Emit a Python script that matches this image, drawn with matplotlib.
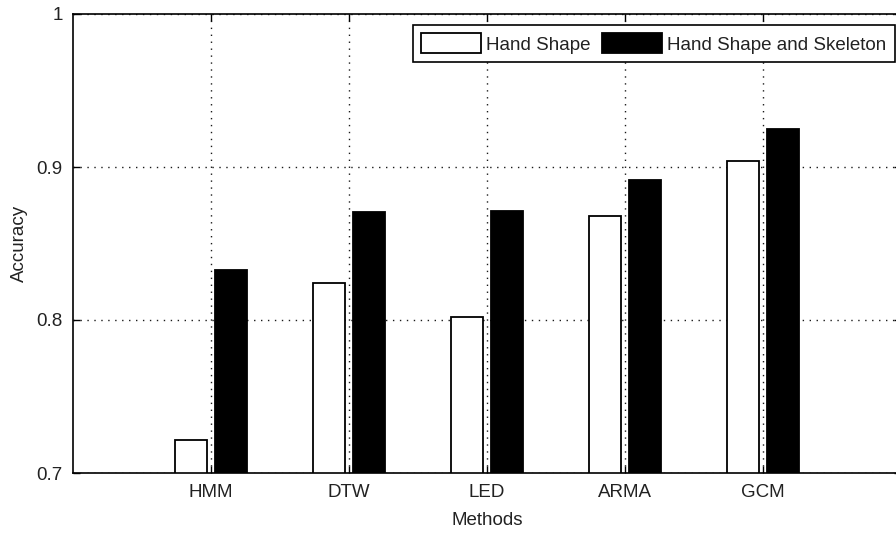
import matplotlib
matplotlib.use("Agg")
import matplotlib.pyplot as plt
import numpy as np

methods = ["HMM", "DTW", "LED", "ARMA", "GCM"]
hand_shape = [0.7215, 0.8245, 0.802, 0.868, 0.904]
hand_skel = [0.8324, 0.8705, 0.8715, 0.8917, 0.9247]
series_names = ["Hand Shape", "Hand Shape and Skeleton"]
yticks = [0.7, 0.8, 0.9, 1.0]
ytick_labels = ["0.7", "0.8", "0.9", "1"]

plt.rcParams['font.family'] = ['Liberation Sans', 'DejaVu Sans']
W, H = 896, 533
fig = plt.figure(figsize=(W / 100, H / 100), dpi=100)
left, right, top, bottom = 73, 901, 14, 473
ax = fig.add_axes([left / W, 1 - bottom / H, (right - left) / W, (bottom - top) / H])

x = np.arange(1, len(methods) + 1)
off = 0.143
bw = 0.2286
ax.bar(x - off, hand_shape, bw, color="white", edgecolor="black", linewidth=1.3,
       label=series_names[0], zorder=2)
ax.bar(x + off, hand_skel, bw, color="black", edgecolor="black", linewidth=1.3,
       label=series_names[1], zorder=2)

ax.set_xlim(0, 6)
ax.set_ylim(0.7, 1.0)
ax.set_xticks(x)
ax.set_xticklabels(methods)
ax.set_yticks(yticks)
ax.set_yticklabels(ytick_labels)
ax.set_axisbelow(True)
ax.grid(True, color="0.1", linestyle=(0, (1, 4)), linewidth=1.0)
ax.tick_params(direction="in", length=5, width=1, top=True, right=True,
               labelsize=13.5, pad=8, colors="black", labelcolor="#222222")
ax.tick_params(axis="y", pad=7.5)
for s in ax.spines.values():
    s.set_linewidth(1.2)
ax.set_xlabel("Methods", fontsize=13.5, labelpad=8, color="#222222")
ax.set_ylabel("Accuracy", fontsize=13.5, labelpad=6, color="#222222")

leg = fig.legend(loc="upper right", bbox_to_anchor=(895 / W, 1 - 25 / H),
                 ncol=2, fontsize=13.5, frameon=True, fancybox=False,
                 edgecolor="black", framealpha=1, handlelength=3.2,
                 handleheight=1.25, handletextpad=0.28, columnspacing=0.6,
                 borderpad=0.45, borderaxespad=0.0)
leg.get_frame().set_linewidth(1.2)
for t in leg.get_texts():
    t.set_color("#222222")

fig.savefig("out.png", dpi=100)
